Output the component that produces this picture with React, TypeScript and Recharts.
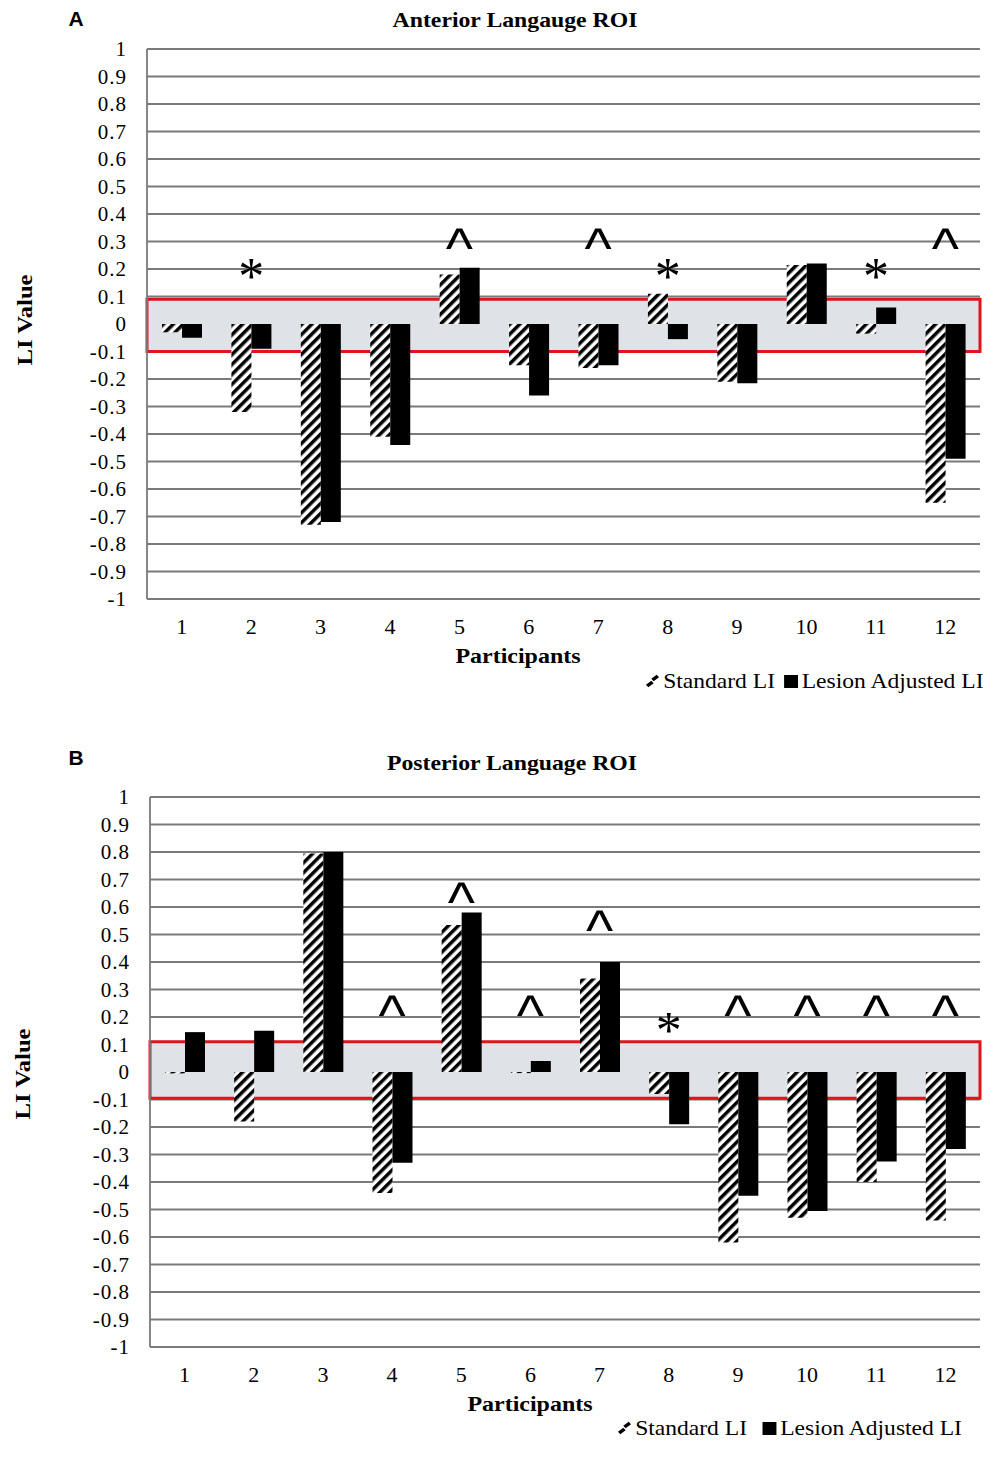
import {
  ComposedChart,
  Bar,
  Scatter,
  XAxis,
  YAxis,
  CartesianGrid,
  ReferenceArea,
} from 'recharts';

const participants = ['1', '2', '3', '4', '5', '6', '7', '8', '9', '10', '11', '12'];

const yTicks = [1, 0.9, 0.8, 0.7, 0.6, 0.5, 0.4, 0.3, 0.2, 0.1, 0, -0.1, -0.2, -0.3, -0.4, -0.5, -0.6, -0.7, -0.8, -0.9, -1];

// Anterior language ROI
const anteriorStandard = [-0.03, -0.32, -0.73, -0.41, 0.18, -0.15, -0.16, 0.11, -0.21, 0.215, -0.035, -0.65];
const anteriorLesion = [-0.05, -0.09, -0.72, -0.44, 0.205, -0.26, -0.15, -0.055, -0.215, 0.22, 0.06, -0.49];
const anteriorMarks = ['', '*', '', '', '^', '', '^', '*', '', '', '*', '^'];
const anteriorMarkY = [null, 0.21, null, null, 0.31, null, 0.31, 0.21, null, null, 0.21, 0.31];

// Posterior language ROI
const posteriorStandard = [-0.005, -0.18, 0.795, -0.44, 0.535, -0.004, 0.34, -0.08, -0.62, -0.53, -0.4, -0.54];
const posteriorLesion = [0.145, 0.15, 0.8, -0.33, 0.58, 0.04, 0.4, -0.19, -0.45, -0.505, -0.325, -0.28];
const posteriorMarks = ['', '', '', '^', '^', '^', '^', '*', '^', '^', '^', '^'];
const posteriorMarkY = [null, null, null, 0.24, 0.65, 0.24, 0.55, 0.19, 0.24, 0.24, 0.24, 0.24];

const serif = '"Liberation Serif", "Times New Roman", serif';
const sans = '"Liberation Sans", Arial, sans-serif';

function buildRows(std: number[], les: number[], marks: string[], markY: (number | null)[]) {
  return participants.map((p, i) => ({
    participant: p,
    standard: std[i],
    lesion: les[i],
    mark: marks[i],
    markY: markY[i],
  }));
}

function MarkShape(props: any) {
  const { cx, cy, payload } = props;
  if (!payload || !payload.mark || cy == null || isNaN(cy)) return <g />;
  if (payload.mark === '^') {
    return (
      <text x={cx} y={cy + 29} textAnchor="middle" fontFamily={sans} fontSize={58} fill="#000">
        ^
      </text>
    );
  }
  return (
    <text x={cx} y={cy + 28} textAnchor="middle" fontFamily={serif} fontSize={52} fill="#000">
      *
    </text>
  );
}

function Hatch({ id }: { id: string }) {
  return (
    <defs>
      <pattern id={id} width={7} height={7} patternUnits="userSpaceOnUse" patternTransform="rotate(45)">
        <rect x={0} y={0} width={7} height={7} fill="#fff" />
        <rect x={0} y={0} width={3.5} height={7} fill="#000" />
      </pattern>
    </defs>
  );
}

interface PanelProps {
  top: number;
  yAxisWidth: number;
  hatchId: string;
  rows: ReturnType<typeof buildRows>;
  boxTop: number;
  boxBottom: number;
}

function Panel({ top, yAxisWidth, hatchId, rows, boxTop, boxBottom }: PanelProps) {
  return (
    <div style={{ position: 'absolute', left: 0, top }}>
      <ComposedChart
        width={1000}
        height={644}
        data={rows}
        margin={{ top: 49, right: 20, left: 0, bottom: 0 }}
        barGap={0}
      >
        <Hatch id={hatchId} />
        <CartesianGrid vertical={false} stroke="#7a7a7a" strokeWidth={1.8} />
        <XAxis
          dataKey="participant"
          height={45}
          tickLine={false}
          tickSize={0}
          tickMargin={19}
          axisLine={{ stroke: '#7a7a7a', strokeWidth: 1.8 }}
          tick={{ fill: '#000', fontSize: 22, fontFamily: serif }}
        />
        <YAxis
          type="number"
          domain={[-1, 1]}
          ticks={yTicks}
          interval={0}
          width={yAxisWidth}
          tickLine={false}
          tickSize={0}
          tickMargin={20}
          axisLine={{ stroke: '#7a7a7a', strokeWidth: 1.8 }}
          tick={{ fill: '#000', fontSize: 21, fontFamily: serif, letterSpacing: 1 }}
          allowDataOverflow
        />
        <ReferenceArea
          y1={boxBottom}
          y2={boxTop}
          fill="#dfe2e7"
          fillOpacity={1}
          stroke="#e0141b"
          strokeWidth={3}
          ifOverflow="visible"
        />
        <Bar dataKey="standard" fill={`url(#${hatchId})`} barSize={20} isAnimationActive={false} />
        <Bar dataKey="lesion" fill="#000" barSize={20} isAnimationActive={false} />
        <Scatter dataKey="markY" shape={MarkShape} isAnimationActive={false} />
      </ComposedChart>
    </div>
  );
}

function Label({ x, y, text, style, rotate = 0, stretch = 1 }: {
  x: number;
  y: number;
  text: string;
  style: React.CSSProperties;
  rotate?: number;
  stretch?: number;
}) {
  return (
    <div
      style={{
        position: 'absolute',
        left: x,
        top: y,
        transform: `translate(-50%, -50%) rotate(${rotate}deg) scaleX(${stretch})`,
        whiteSpace: 'nowrap',
        lineHeight: 1,
        ...style,
      }}
    >
      {text}
    </div>
  );
}

function LegendBox({ left, top, gap }: { left: number; top: number; gap: number }) {
  return (
    <div
      style={{
        position: 'absolute',
        left,
        top,
        fontFamily: serif,
        fontSize: 22,
        lineHeight: 1,
        whiteSpace: 'nowrap',
        display: 'flex',
        alignItems: 'center',
        transform: 'scaleX(1.07)',
        transformOrigin: 'left center',
      }}
    >
      <svg width={14} height={14} style={{ marginRight: 3 }}>
        <path d="M2 12 L7 8 M7 6 L12 2" stroke="#000" strokeWidth={3.5} />
      </svg>
      <span style={{ marginRight: gap }}>Standard LI</span>
      <span style={{ display: 'inline-block', width: 13, height: 13, marginRight: 3, background: '#000' }} />
      <span>Lesion Adjusted LI</span>
    </div>
  );
}

export default function App() {
  const anteriorRows = buildRows(anteriorStandard, anteriorLesion, anteriorMarks, anteriorMarkY);
  const posteriorRows = buildRows(posteriorStandard, posteriorLesion, posteriorMarks, posteriorMarkY);
  const title: React.CSSProperties = { fontFamily: serif, fontWeight: 'bold', fontSize: 21 };
  const axisTitle: React.CSSProperties = { fontFamily: serif, fontWeight: 'bold', fontSize: 22 };
  const letter: React.CSSProperties = { fontFamily: sans, fontWeight: 'bold', fontSize: 21 };

  return (
    <div style={{ position: 'absolute', left: 0, top: 0, width: 1000, height: 1459, background: '#fff' }}>
      <Panel top={0} yAxisWidth={147} hatchId="hatchA" rows={anteriorRows} boxTop={0.09} boxBottom={-0.1} />
      <Panel top={748} yAxisWidth={150} hatchId="hatchB" rows={posteriorRows} boxTop={0.11} boxBottom={-0.095} />

      <Label x={76} y={18} text="A" style={letter} />
      <Label x={515} y={20} text="Anterior Langauge ROI" style={title} stretch={1.13} />
      <Label x={25} y={320} text="LI Value" style={axisTitle} rotate={-90} stretch={1.12} />
      <Label x={518} y={656} text="Participants" style={axisTitle} stretch={1.09} />
      <LegendBox left={645} top={670} gap={9} />

      <Label x={76} y={757} text="B" style={letter} />
      <Label x={512} y={763} text="Posterior Language ROI" style={title} stretch={1.13} />
      <Label x={23} y={1074} text="LI Value" style={axisTitle} rotate={-90} stretch={1.12} />
      <Label x={530} y={1404} text="Participants" style={axisTitle} stretch={1.09} />
      <LegendBox left={617} top={1417} gap={15} />
    </div>
  );
}
